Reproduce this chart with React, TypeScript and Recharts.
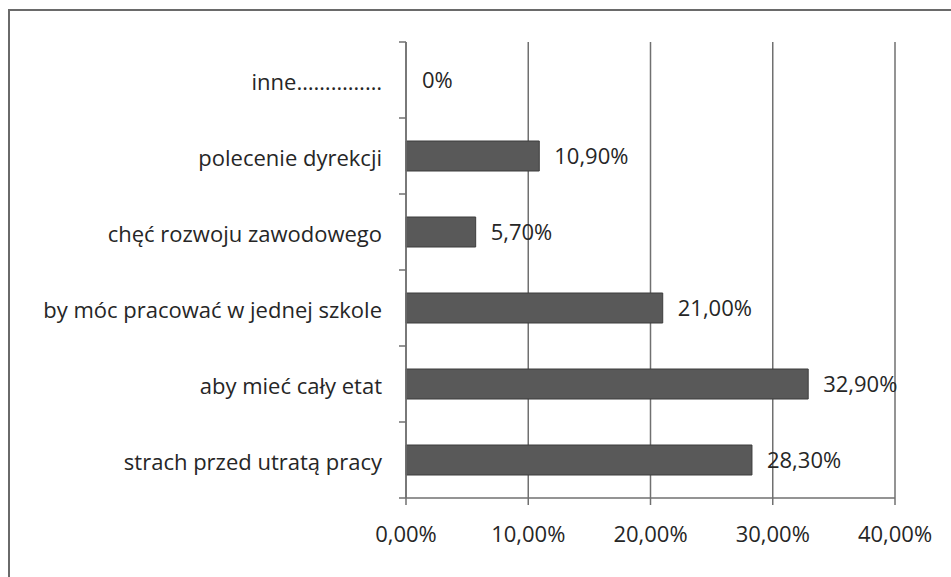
import React from "react";
import { BarChart, Bar, XAxis, YAxis, CartesianGrid, LabelList, Cell } from "recharts";

const categories = [
  "inne……………",
  "polecenie dyrekcji",
  "chęć rozwoju zawodowego",
  "by móc pracować w jednej szkole",
  "aby mieć cały etat",
  "strach przed utratą pracy",
];
const values = [0, 10.9, 5.7, 21.0, 32.9, 28.3];
const valueLabels = ["0%", "10,90%", "5,70%", "21,00%", "32,90%", "28,30%"];
const xTicks = [0, 10, 20, 30, 40];
const xTickLabels = ["0,00%", "10,00%", "20,00%", "30,00%", "40,00%"];

const data = categories.map((c, i) => ({ name: c, value: values[i], label: valueLabels[i] }));

const FONT = "'Open Sans', sans-serif";
const FS = 22;
const TEXT = "#262626";
const LINE = "#707070";

const W = 951;
const H = 577;
const M_TOP = 42;
const X_AXIS_H = 79;
const PLOT_H = H - M_TOP - X_AXIS_H;
const BAND = PLOT_H / categories.length;
const Y_MARGIN = 24;
const TICK_LEN = 7;

function CategoryTick(props: any) {
  const { x, y, payload, index } = props;
  const axisX = x + Y_MARGIN;
  return (
    <g>
      <line x1={axisX - TICK_LEN} x2={axisX} y1={y - BAND / 2} y2={y - BAND / 2} stroke={LINE} strokeWidth={1.5} />
      {index === categories.length - 1 && (
        <line x1={axisX - TICK_LEN} x2={axisX} y1={y + BAND / 2} y2={y + BAND / 2} stroke={LINE} strokeWidth={1.5} />
      )}
      <text x={x} y={y + 1} textAnchor="end" dominantBaseline="central" fill={TEXT} fontSize={FS} fontFamily={FONT}>
        {payload.value}
      </text>
    </g>
  );
}

export default function App() {
  return (
    <div style={{ position: "absolute", left: 0, top: 0, width: W, height: H, background: "#fff", overflow: "hidden" }}>
      <div
        style={{
          position: "absolute",
          left: 8,
          top: 9,
          width: 980,
          height: 620,
          border: "2px solid #6a6a6a",
          boxSizing: "border-box",
        }}
      />
      <div style={{ position: "absolute", left: 0, top: 0 }}>
        <BarChart
          width={W}
          height={H}
          data={data}
          layout="vertical"
          margin={{ top: M_TOP, right: 56, bottom: 0, left: 0 }}
          barSize={30}
        >
          <CartesianGrid horizontal={false} stroke={LINE} strokeWidth={1.5} />
          <XAxis
            type="number"
            domain={[0, 40]}
            ticks={xTicks}
            tickFormatter={(v: number) => xTickLabels[xTicks.indexOf(v)]}
            height={X_AXIS_H}
            tickSize={TICK_LEN}
            tickMargin={21}
            stroke={LINE}
            strokeWidth={1.5}
            tick={{ fill: TEXT, fontSize: FS, fontFamily: FONT }}
            interval={0}
          />
          <YAxis
            type="category"
            dataKey="name"
            width={406}
            tickLine={false}
            tickSize={0}
            tickMargin={Y_MARGIN}
            stroke={LINE}
            strokeWidth={1.5}
            tick={<CategoryTick />}
            interval={0}
          />
          <Bar
            dataKey="value"
            fill="#595959"
            stroke="#3d3d3d"
            strokeWidth={1}
            minPointSize={1}
            isAnimationActive={false}
          >
            {data.map((d, i) => (
              <Cell key={i} fill={d.value === 0 ? "none" : "#595959"} stroke={d.value === 0 ? "none" : "#3d3d3d"} />
            ))}
            <LabelList dataKey="label" position="right" offset={15} fill={TEXT} fontSize={FS} fontFamily={FONT} />
          </Bar>
        </BarChart>
      </div>
    </div>
  );
}
